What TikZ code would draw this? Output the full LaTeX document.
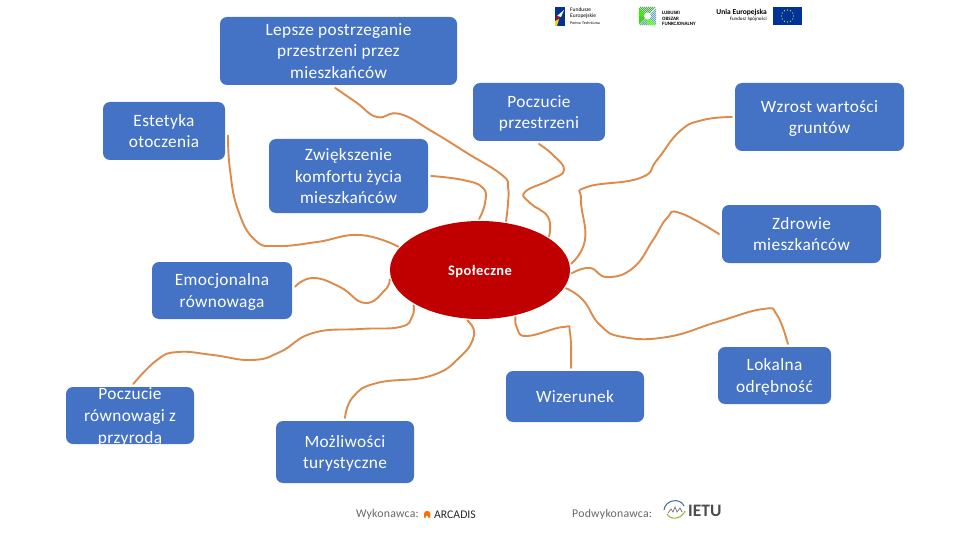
\documentclass[tikz,border=0pt]{standalone}
\usepackage{fontspec}
\setmainfont{Carlito}
\usetikzlibrary{shapes.geometric}

\definecolor{boxblue}{HTML}{4472C4}
\definecolor{linkorange}{HTML}{DD8A4A}
\definecolor{hubred}{HTML}{C00000}
\definecolor{eublue}{HTML}{003399}

\begin{document}
\begin{tikzpicture}[
  x=1pt, y=-1pt,
  topic/.style={fill=boxblue, text=white, rounded corners=7pt, align=center, inner sep=0pt, outer sep=3pt, text depth=0pt,
    font=\fontsize{17.3}{21.7}\selectfont\addfontfeatures{LetterSpace=2}},
  hub/.style={ellipse, fill=hubred, text=white, inner sep=0pt, outer sep=2pt, minimum width=180pt, minimum height=98pt, text depth=0pt,
    font=\fontsize{14.5}{16}\selectfont\bfseries\addfontfeatures{LetterSpace=3}},
  link/.style={draw=linkorange, line width=1.9pt, line cap=round, smooth, tension=0.8},
  credit/.style={text=black!60, inner sep=0pt, font=\fontsize{11.8}{13}\selectfont\addfontfeatures{LetterSpace=2}},
  logotext/.style={inner sep=0pt, align=left, font=\fontsize{5.5}{6.3}\selectfont}
]
\useasboundingbox (0,0) rectangle (960,540);

\node[hub] (spoleczne) at (480,270) {Społeczne};

\node[topic, minimum width=237pt, minimum height=68pt] (lepsze) at (338.5,51) {Lepsze postrzeganie\\przestrzeni przez\\mieszkańców};
\node[topic, minimum width=122pt, minimum height=58pt] (estetyka) at (164,131) {Estetyka\\otoczenia};
\node[topic, minimum width=132pt, minimum height=58pt] (przestrzen) at (539,112) {Poczucie\\przestrzeni};
\node[topic, minimum width=159pt, minimum height=74pt] (komfort) at (348.5,176) {Zwiększenie\\komfortu życia\\mieszkańców};
\node[topic, minimum width=169pt, minimum height=68pt] (grunty) at (819.5,117) {Wzrost wartości\\gruntów};
\node[topic, minimum width=159pt, minimum height=58pt] (zdrowie) at (801.5,234) {Zdrowie\\mieszkańców};
\node[topic, minimum width=140pt, minimum height=57pt] (emocje) at (222,290.5) {Emocjonalna\\równowaga};
\node[topic, minimum width=128pt, minimum height=57pt] (przyroda) at (130,415.5) {Poczucie\\równowagi z\\przyrodą};
\node[topic, minimum width=138pt, minimum height=51pt] (wizerunek) at (575,396.5) {Wizerunek};
\node[topic, minimum width=113pt, minimum height=57pt] (lokalna) at (774.5,375.5) {Lokalna\\odrębność};
\node[topic, minimum width=138pt, minimum height=62pt] (turystyka) at (345,452) {Możliwości\\turystyczne};

\draw[link] plot coordinates {(lepsze.265) (357,103) (377,117) (400,114) (433,132) (467,153) (502,175) (508,187) (508,203) (spoleczne.62)};
\draw[link] plot coordinates {(przestrzen.south) (553,155) (564,170) (550,180) (525,192) (530,203) (548,217) (spoleczne.26)};
\draw[link] plot coordinates {(komfort.east) (463,180) (483,188) (485,203) (spoleczne.91)};
\draw[link] plot coordinates {(estetyka.356) (230,170) (238,210) (255,240) (277,246) (317,242) (360,235) (spoleczne.164)};
\draw[link] plot coordinates {(emocje.3) (313,278) (340,287) (365,303) (385,290) (spoleczne.186)};
\draw[link] plot coordinates {(przyroda.84) (157,360) (178,352) (213,355) (252,360) (280,352) (313,333) (360,329) (400,327) (412,317) (spoleczne.208)};
\draw[link] plot coordinates {(turystyka.north) (353,397) (377,383) (430,376) (460,357) (474,335) (spoleczne.256)};
\draw[link] plot coordinates {(wizerunek.98) (570,333) (563,327) (527,336) (517,328) (spoleczne.307)};
\draw[link] plot coordinates {(lokalna.67) (777,315) (763,309) (717,322) (667,337) (623,337) (600,325) (583,300) (spoleczne.348)};
\draw[link] plot coordinates {(zdrowie.west) (680,213) (667,218) (653,240) (633,268) (607,277) (590,268) (spoleczne.358)};
\draw[link] plot coordinates {(grunty.west) (703,120) (680,131) (657,160) (640,178) (587,187) (581,200) (585,240) (spoleczne.4)};

% logos at the top
\fill[eublue] (555,7) rectangle (565,26);
\fill[white] (557,16) -- (564,10) -- (561,17) -- cycle;
\fill[red!80!black] (555,17) -- (560,17) -- (558,22) -- cycle;
\fill[yellow!90!black] (555,21) -- (559,19) -- (557,26) -- (555,26) -- cycle;
\node[logotext, anchor=west] (fundusze) at (570,16) {Fundusze\\Europejskie\\[1pt]{\fontsize{4}{5}\selectfont Pomoc Techniczna}};

\foreach \i in {0,2,...,16} {
  \draw[green!55!black!70, line width=0.8pt] (639+\i,7) -- (639,7+\i);
  \draw[cyan!60!black!70, line width=0.8pt] (656-\i,25) -- (656,25-\i);
  \draw[green!70!yellow, line width=0.8pt] (639,25-\i) -- (639+\i,25);
}
\fill[white] (647.5,16) circle (3.5);
\node[logotext, anchor=west, font=\fontsize{5}{5.2}\selectfont\bfseries] (obszar) at (662,18.5) {LUBUSKI\\OBSZAR\\FUNKCJONALNY};

\node[inner sep=0pt, anchor=east, font=\fontsize{7.5}{9}\selectfont\bfseries] (unia) at (767,12.5) {Unia Europejska};
\node[inner sep=0pt, anchor=east, font=\fontsize{5}{6}\selectfont] (spojnosc) at (767,19.5) {Fundusz Spójności};
\fill[eublue] (773,7) rectangle (802,25);
\foreach \a in {0,30,...,330} {
  \fill[yellow] (787.5,16) ++(\a:6) circle (0.6);
}

% logos at the bottom
\node[credit, anchor=west] (wykonawca) at (356,514.5) {Wykonawca:};
\fill[orange!85!red] (424,517.5) -- (424,514) arc[start angle=180, end angle=360, radius=3.2] -- (430.4,517.5) -- cycle;
\fill[white] (426,517.5) rectangle (428.4,515.5);
\node[inner sep=0pt, anchor=west, text=black!85, font=\fontsize{11.7}{13}\selectfont] (arcadis) at (434,514.5) {ARCADIS};

\node[credit, anchor=west] (podwykonawca) at (572,514.5) {Podwykonawca:};
\draw[cyan!50!blue!70!black, line width=1pt] (664,510) .. controls (665,500) and (680,497) .. (684,506);
\draw[yellow!60!green!80!black, line width=1pt] (667,514) .. controls (670,520) and (681,520) .. (685,511);
\draw[black!55, line width=0.7pt] (668,513) -- (671,509) -- (673,512) -- (675,507) -- (677,512) -- (680,508) -- (682,512);
\node[inner sep=0pt, anchor=west, text=black!70, font=\fontsize{17.5}{19}\selectfont\bfseries] (ietu) at (688,511) {IETU};
\end{tikzpicture}
\end{document}
